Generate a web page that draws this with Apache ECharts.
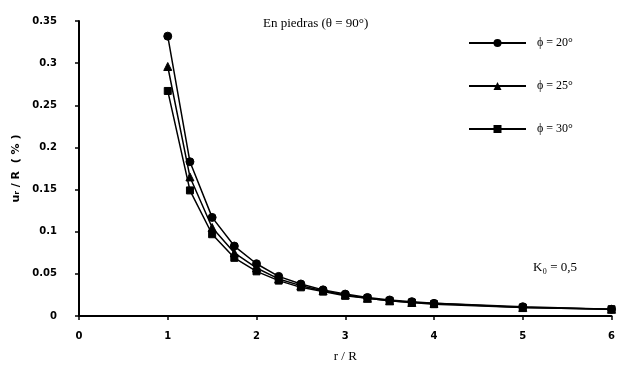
<!DOCTYPE html>
<html>
<head>
<meta charset="utf-8">
<script src="https://cdn.jsdelivr.net/npm/echarts@6/dist/echarts.min.js"></script>
<style>html,body{margin:0;padding:0;background:#fff}#c{width:618px;height:370px}</style>
</head>
<body>
<div id="c"></div>
<script>
const rR = [1, 1.25, 1.5, 1.75, 2, 2.25, 2.5, 2.75, 3, 3.25, 3.5, 3.75, 4, 5, 6];
const phi20 = [0.332, 0.183, 0.117, 0.083, 0.062, 0.047, 0.038, 0.031, 0.026, 0.022, 0.019, 0.017, 0.015, 0.011, 0.008];
const phi25 = [0.296, 0.165, 0.105, 0.075, 0.057, 0.044, 0.036, 0.030, 0.025, 0.021, 0.018, 0.016, 0.015, 0.010, 0.008];
const phi30 = [0.267, 0.149, 0.097, 0.069, 0.053, 0.042, 0.034, 0.029, 0.024, 0.021, 0.018, 0.016, 0.014, 0.010, 0.008];
const seriesNames = ['ϕ = 20°', 'ϕ = 25°', 'ϕ = 30°'];
const xTicks = ['0', '1', '2', '3', '4', '5', '6'];
const titleText = 'En piedras (θ = 90°)';
const noteText = 'K₀ = 0,5';

const chart = echarts.init(document.getElementById('c'));
const pair = (ys) => rR.map((x, i) => [x, ys[i]]);
const symbols = ['circle', 'triangle', 'rect'];
const datas = [phi20, phi25, phi30];
const tickFont = {fontFamily: 'DejaVu Sans', fontWeight: 'bold', fontSize: 10, color: '#000'};
chart.setOption({
  animation: false,
  backgroundColor: '#fff',
  title: {
    text: titleText, left: 258, top: 12,
    textStyle: {fontFamily: 'Liberation Serif', fontSize: 13, fontWeight: 'normal', color: '#000'}
  },
  graphic: [{
    type: 'text', left: 533, top: 261,
    style: {text: noteText, font: '13px "Liberation Serif"', fill: '#000'}
  }],
  legend: {
    orient: 'vertical', left: 463, top: 32, itemWidth: 57, itemHeight: 10, itemGap: 31,
    data: seriesNames,
    textStyle: {fontFamily: 'Liberation Serif', fontSize: 12, color: '#000', padding: [0,0,0,6]}
  },
  grid: {left: 79, right: 4, top: 21, bottom: 54, containLabel: false},
  xAxis: {
    type: 'value', min: 0, max: 6, interval: 1,
    name: 'r / R', nameLocation: 'middle', nameGap: 34,
    nameTextStyle: {fontFamily: 'Liberation Serif', fontSize: 13, color: '#000'},
    axisLine: {lineStyle: {color: '#000', width: 2}},
    axisTick: {show: true, length: 4, lineStyle: {color: '#000', width: 1.5}},
    axisLabel: Object.assign({margin: 15, formatter: (v) => xTicks[Math.round(v)]}, tickFont),
    splitLine: {show: false}
  },
  yAxis: {
    type: 'value', min: 0, max: 0.35, interval: 0.05,
    name: 'uᵣ / R  ( % )', nameLocation: 'middle', nameGap: 57, nameRotate: 90,
    nameTextStyle: {fontFamily: 'DejaVu Sans', fontWeight: 'bold', fontSize: 11, color: '#000'},
    axisLine: {show: true, lineStyle: {color: '#000', width: 2}},
    axisTick: {show: true, length: 4, lineStyle: {color: '#000', width: 1.5}},
    axisLabel: Object.assign({margin: 22, formatter: (v) => String(+v.toFixed(2))}, tickFont),
    splitLine: {show: false}
  },
  series: seriesNames.map((n, k) => ({
    name: n, type: 'line', data: pair(datas[k]),
    symbol: symbols[k], symbolSize: k === 2 ? 7 : 8,
    lineStyle: {color: '#000', width: 1.5},
    itemStyle: {color: '#000', borderColor: '#000'}
  }))
});
</script>
</body>
</html>
